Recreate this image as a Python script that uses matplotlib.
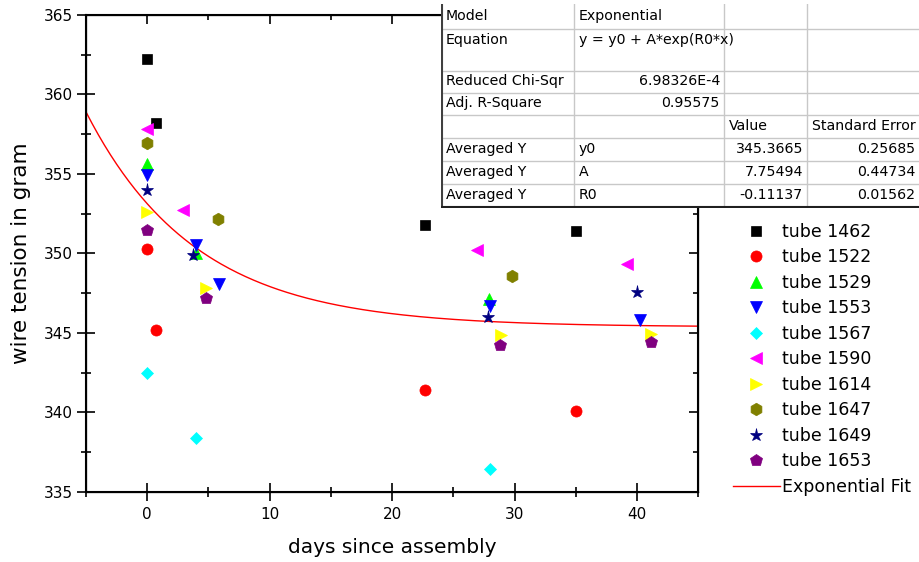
import matplotlib
matplotlib.use('Agg')
import matplotlib.pyplot as plt
import numpy as np

# data
tubes = ['tube 1462', 'tube 1522', 'tube 1529', 'tube 1553', 'tube 1567',
         'tube 1590', 'tube 1614', 'tube 1647', 'tube 1649', 'tube 1653']
days = {
    'tube 1462': [0.0, 0.7, 22.7, 35.0],
    'tube 1522': [0.0, 0.7, 22.7, 35.0],
    'tube 1529': [0.0, 4.0, 27.9],
    'tube 1553': [0.0, 4.0, 5.9, 28.0, 40.2],
    'tube 1567': [0.0, 4.0, 28.0],
    'tube 1590': [0.0, 2.9, 26.9, 39.2],
    'tube 1614': [0.0, 4.8, 28.9, 41.1],
    'tube 1647': [0.0, 5.8, 29.8],
    'tube 1649': [0.0, 3.7, 27.8, 40.0],
    'tube 1653': [0.0, 4.8, 28.8, 41.1],
}
tension = {
    'tube 1462': [362.2, 358.2, 351.8, 351.4],
    'tube 1522': [350.3, 345.15, 341.4, 340.1],
    'tube 1529': [355.6, 350.0, 347.1],
    'tube 1553': [354.9, 350.5, 348.1, 346.7, 345.8],
    'tube 1567': [342.5, 338.4, 336.45],
    'tube 1590': [357.8, 352.7, 350.2, 349.3],
    'tube 1614': [352.6, 347.8, 344.85, 344.95],
    'tube 1647': [356.95, 352.15, 348.55],
    'tube 1649': [354.0, 349.9, 346.0, 347.55],
    'tube 1653': [351.5, 347.2, 344.25, 344.4],
}
colors = ['black', 'red', '#00ff00', 'blue', 'cyan', 'magenta', 'yellow',
          '#808000', '#000080', '#800080']
markers = ['s', 'o', '^', 'v', 'D', '<', '>', 'h', '*', 'p']
msizes = [6.5, 8, 8, 8, 6.5, 8, 8, 9, 9.5, 9]

# fit parameters
y0, A, R0 = 345.3665, 7.75494, -0.11137

table_rows = [
    ['Model', 'Exponential', '', ''],
    ['Equation', 'y = y0 + A*exp(R0*x)', '', ''],
    ['Reduced Chi-Sqr', '6.98326E-4', '', ''],
    ['Adj. R-Square', '0.95575', '', ''],
    ['', '', 'Value', 'Standard Error'],
    ['Averaged Y', 'y0', '345.3665', '0.25685'],
    ['Averaged Y', 'A', '7.75494', '0.44734'],
    ['Averaged Y', 'R0', '-0.11137', '0.01562'],
]

W, H = 919, 562
fig = plt.figure(figsize=(W / 100, H / 100), dpi=100)
ax = fig.add_axes([86 / W, (H - 491.7) / H, (698.3 - 86) / W, (491.7 - 15) / H])

handles = []
for i, t in enumerate(tubes):
    h, = ax.plot(days[t], tension[t], linestyle='none', marker=markers[i],
                 color=colors[i], ms=msizes[i], mec=colors[i], mew=0.5,
                 label=t, zorder=3)
    handles.append(h)

xs = np.linspace(-5, 45, 300)
fit, = ax.plot(xs, y0 + A * np.exp(R0 * xs), color='red', lw=1,
               label='Exponential Fit', zorder=2)
handles.append(fit)

ax.set_xlim(-5, 45)
ax.set_ylim(335, 365)
ax.set_xticks([0, 10, 20, 30, 40])
ax.set_xticks(np.arange(-5, 46, 5), minor=True)
ax.set_yticks(np.arange(335, 366, 5))
ax.set_yticks(np.arange(335, 366, 2.5), minor=True)
ax.tick_params(which='major', direction='inout', length=12.5, width=1.2,
               labelsize=11, top=False, right=False)
ax.tick_params(which='minor', direction='inout', length=7, width=1.2,
               top=False, right=False)
ax.tick_params(axis='x', pad=4.5)
ax.tick_params(axis='y', pad=3.5)
for s in ax.spines.values():
    s.set_linewidth(1.5)

ax.set_xlabel('days since assembly', fontsize=14.5, labelpad=12)
ax.set_ylabel('wire tension in gram', fontsize=15.5, labelpad=9)

# inward ticks on top and right
axt = ax.twiny()
axt.set_xlim(ax.get_xlim())
axt.set_xticks([0, 10, 20, 30, 40])
axt.set_xticks(np.arange(-5, 46, 5), minor=True)
axt.tick_params(which='major', direction='in', length=6.5, width=1.2, labeltop=False)
axt.tick_params(which='minor', direction='in', length=3.5, width=1.2)
axr = ax.twinx()
axr.set_ylim(ax.get_ylim())
axr.set_yticks(np.arange(335, 366, 5))
axr.set_yticks(np.arange(335, 366, 2.5), minor=True)
axr.tick_params(which='major', direction='in', length=6.5, width=1.2, labelright=False)
axr.tick_params(which='minor', direction='in', length=3.5, width=1.2)

fig.legend(handles=handles, loc='upper left',
           bbox_to_anchor=(733 / W, (H - 223) / H), frameon=False,
           fontsize=12.5, handlelength=2.7, handletextpad=0.15,
           labelspacing=0.43, borderpad=0, borderaxespad=0, numpoints=1)

# fit results table
tx0, ty0, tx1, ty1 = 441, 4, 919, 208
axt2 = fig.add_axes([tx0 / W, (H - ty1) / H, (tx1 - tx0) / W, (ty1 - ty0) / H])
axt2.set_xlim(tx0, tx1)
axt2.set_ylim(ty1, ty0)
axt2.set_facecolor('white')
for s in axt2.spines.values():
    s.set_visible(False)
axt2.set_xticks([])
axt2.set_yticks([])
col_edges = [441, 574, 724, 807, 919]
row_edges = [4, 29, 71, 93, 115, 138, 161, 184, 208]
for x in col_edges[1:-1]:
    axt2.plot([x, x], [ty0, ty1], color='#c8c8c8', lw=1)
for y in row_edges[1:-1]:
    axt2.plot([tx0, tx1], [y, y], color='#c8c8c8', lw=1)
axt2.plot([tx0 + 0.5, tx0 + 0.5], [ty0, ty1], color='#404040', lw=1.5)
axt2.plot([tx0, tx1], [ty1 - 0.7, ty1 - 0.7], color='#202020', lw=1.5)
text_y = [16, 40, 81, 103, 126, 149, 172, 195]
for r, row in enumerate(table_rows):
    for c, val in enumerate(row):
        if not val:
            continue
        right = (c >= 2 and r >= 5) or (c == 1 and r in (2, 3))
        if right:
            axt2.text(col_edges[c + 1] - 4, text_y[r], val, ha='right',
                      va='center', fontsize=10.2)
        else:
            axt2.text(col_edges[c] + 5, text_y[r], val, ha='left',
                      va='center', fontsize=10.2)

fig.savefig('out.png', dpi=100)
